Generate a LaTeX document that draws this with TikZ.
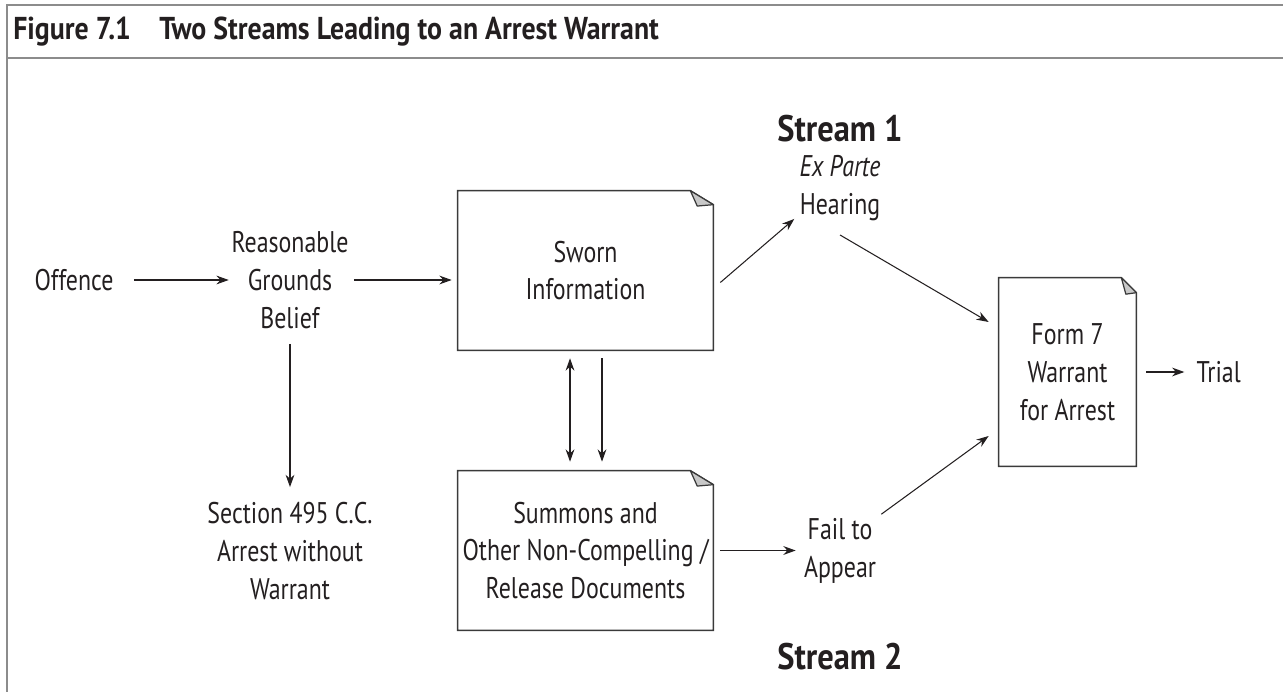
\documentclass[tikz,border=0pt]{standalone}
\usepackage{fontspec}
\setmainfont{PT Sans}[FakeStretch=0.8]
\newfontfamily\headfont{PT Sans}[FakeStretch=0.88]
\usetikzlibrary{arrows.meta, positioning, calc}
\definecolor{framegray}{HTML}{8C8C8C}
\definecolor{foldgray}{HTML}{C8C8C8}
\definecolor{boxline}{HTML}{3A3A3A}
\definecolor{ink}{HTML}{231F20}

% outline of a document node with a turned-down corner
\newcommand\docoutline[3]{%
  \draw [boxline, line width=0.8pt] (#1.south west) -- (#1.north west) -- ($(#1.north east)+(-#2,0)$) -- ($(#1.north east)+(0,#3)$) -- (#1.south east) -- cycle;
  \filldraw [fill=foldgray, draw=boxline, line width=0.7pt, line join=round] ($(#1.north east)+(-#2,0)$) -- ($(#1.north east)+(0,#3)$) -- ($(#1.north east)+(-0.7*#2,1.1*#3)$) -- cycle;
}

\begin{document}
\begin{tikzpicture}[x=0.02cm, y=-0.02cm, >={Stealth[length=7pt,width=5pt]}, font=\fontsize{17}{21.5}\selectfont, text=ink]
    \tikzstyle{txt} = [align=center, inner sep=0pt]
    \tikzstyle{doc} = [rectangle, inner sep=0pt, align=center]
    \tikzstyle{arr} = [draw=ink, ->, line width=0.6pt]
    \tikzstyle{stream} = [inner sep=0pt, font=\fontsize{21}{25}\headfont\bfseries]

    \useasboundingbox (0,0) rectangle (1283,692);
    \draw [framegray, line width=1.4pt] (7,692) -- (7,5) -- (1283,5);
    \draw [framegray, line width=1.4pt] (7,58) -- (1283,58);
    \node [anchor=west, inner sep=0pt, font=\fontsize{18}{22}\headfont\bfseries] (title) at (13,32) {Figure 7.1\hspace{0.9em}Two Streams Leading to an Arrest Warrant};

    \node [stream] (s1) at (840,129) {Stream 1};
    \node [stream] (s2) at (840,657) {Stream 2};

    \node [txt] (off) at (74,280) {Offence};
    \node [txt] (rgb) at (290,280) {Reasonable\\Grounds\\Belief};
    \node [txt] (sec) at (290,551) {Section 495 C.C.\\Arrest without\\Warrant};
    \node [doc, minimum width=5.1cm, minimum height=3.18cm] (sworn) at (585.5,270.5) {Sworn\\Information};
    \node [doc, minimum width=5.1cm, minimum height=3.18cm] (summ) at (585.5,550.5) {Summons and\\Other Non-Compelling /\\Release Documents};
    \node [txt] (hear) at (840,188) {\textit{Ex Parte}\\Hearing};
    \node [txt] (fail) at (840,551) {Fail to\\Appear};
    \node [doc, minimum width=2.74cm, minimum height=3.76cm] (form) at (1067.5,372) {Form 7\\Warrant\\for Arrest};
    \node [txt, right=1.2cm of form] (trial) {Trial};

    \docoutline{sworn}{23}{14}
    \docoutline{summ}{23}{14}
    \docoutline{form}{15}{15}

    \path [arr, shorten <=0.4cm, shorten >=0.05cm] (off.east) -- (off.east -| rgb.west);
    \path [arr, shorten <=0.1cm, shorten >=0.12cm] (rgb.east) -- (rgb.east -| sworn.west);
    \path [arr, shorten <=0.3cm, shorten >=0.3cm] (rgb.south) -- (sec.north);
    \path [arr, <->, shorten <=0.16cm, shorten >=0.18cm] ([xshift=-0.31cm]sworn.south) -- ([xshift=-0.31cm]summ.north);
    \path [arr, shorten <=0.16cm, shorten >=0.18cm] ([xshift=0.33cm]sworn.south) -- ([xshift=0.33cm]summ.north);
    \path [arr] ($(sworn.east)+(7,12)$) -- ($(hear.south west)+(-5,-2)$);
    \path [arr] ($(hear.south)+(0,14)$) -- ($(form.west)+(-10,-50)$);
    \path [arr, shorten <=0.14cm, shorten >=0.16cm] (summ.east) -- (summ.east -| fail.west);
    \path [arr] ($(fail.north east)+(5,-4)$) -- ($(form.west)+(-10,64)$);
    \path [arr, shorten <=0.2cm, shorten >=0.24cm] (form.east) -- (trial.west);
\end{tikzpicture}
\end{document}
